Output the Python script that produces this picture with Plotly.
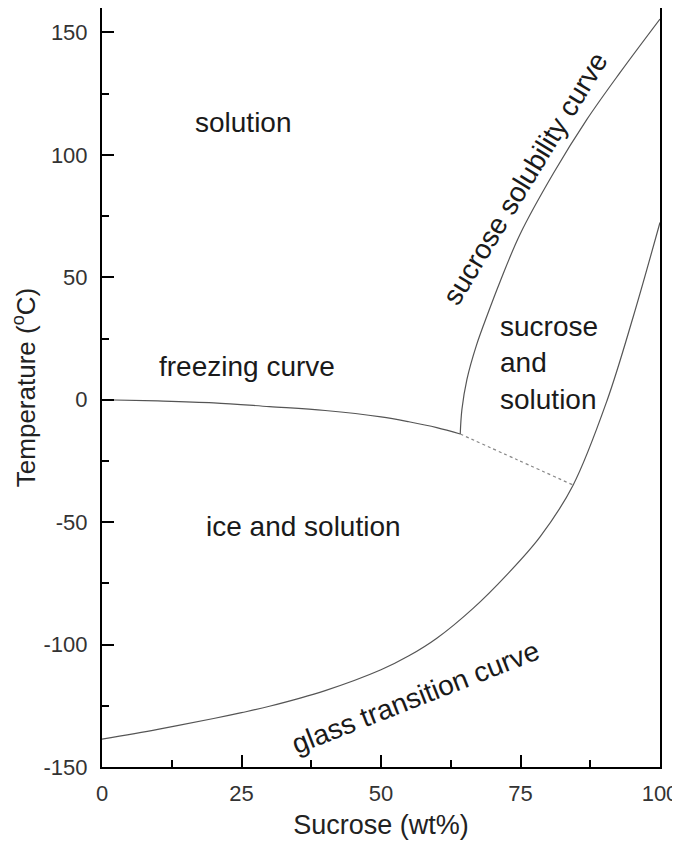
import plotly.graph_objects as go

# Freezing curve (ice liquidus)
freeze_x = [0, 10, 20, 30, 40, 50, 55, 60, 64.2]
freeze_y = [0, -0.5, -1.3, -2.8, -4.4, -7.0, -9.0, -11.4, -14.0]

# Metastable extension of freezing curve (dotted)
ext_x = [64.2, 74.4, 84.4]
ext_y = [-14.0, -24.5, -34.8]

# Sucrose solubility curve
sol_x = [64.2, 64.5, 65.4, 67.1, 69.2, 71.3, 74.9, 80.9, 86.9, 92.8, 100]
sol_y = [-14.0, -4.0, 8.3, 22.2, 35.5, 48.0, 67.5, 92.5, 114.5, 133.5, 155.5]

# Glass transition curve
glass_x = [0, 10, 20, 25, 30, 40, 50, 55, 60, 66.5, 72.5, 78.5, 84.4, 90.5, 95.2, 100]
glass_y = [-138.6, -134.6, -130.2, -127.8, -125.2, -118.8, -110.3, -104.6, -97.4,
           -85.2, -71.6, -56.0, -35.0, -0.4, 33.9, 72.4]

# Region / curve labels
label_text = ["solution", "freezing curve", "ice and solution",
              "sucrose<br>and<br>solution", "sucrose solubility curve",
              "glass transition curve"]
label_x = [25.3, 25.9, 36.1, 71.0, 75.8, 56.1]
label_y = [113.2, 13.5, -51.9, 15.1, 90.5, -121.5]
label_angle = [0, 0, 0, 0, -58.6, -21.4]
label_xanchor = ["center", "center", "center", "left", "center", "center"]

x_ticks = [0, 25, 50, 75, 100]
x_ticktext = ["0", "25", "50", "75", "100"]
y_ticks = [-150, -100, -50, 0, 50, 100, 150]
y_ticktext = ["-150", "-100", "-50", "0", "50", "100", "150"]

FONT = "Liberation Sans, Arial, sans-serif"
LINE = "#555555"
SPL = dict(shape="spline", smoothing=1.0)

fig = go.Figure()
fig.add_trace(go.Scatter(x=freeze_x, y=freeze_y, mode="lines",
                         line=dict(color=LINE, width=1.2, **SPL)))
fig.add_trace(go.Scatter(x=ext_x, y=ext_y, mode="lines",
                         line=dict(color="#888888", width=1.2, dash="dot", **SPL)))
fig.add_trace(go.Scatter(x=sol_x, y=sol_y, mode="lines",
                         line=dict(color=LINE, width=1.2, **SPL)))
fig.add_trace(go.Scatter(x=glass_x, y=glass_y, mode="lines",
                         line=dict(color=LINE, width=1.2, **SPL)))

for t, x, y, a, xa in zip(label_text, label_x, label_y, label_angle, label_xanchor):
    fig.add_annotation(x=x, y=y, xref="x", yref="y", text=t, showarrow=False,
                       textangle=a, xanchor=xa, yanchor="middle", align="left",
                       font=dict(family=FONT, size=28, color="#1a1a1a"))

axis_common = dict(showline=True, linecolor="black", linewidth=2, mirror=True,
                   ticks="inside", ticklen=12, tickwidth=2, tickcolor="black",
                   showgrid=False, zeroline=False,
                   tickfont=dict(family=FONT, size=22, color="#333333"))

fig.update_xaxes(range=[0, 100], tickvals=x_ticks, ticktext=x_ticktext,
                 minor=dict(ticks="inside", ticklen=7, tickwidth=2, tickcolor="black",
                            tick0=12.5, dtick=25),
                 title=dict(text="Sucrose (wt%)", standoff=10,
                            font=dict(family=FONT, size=27, color="#222222")),
                 ticklabelstandoff=6,
                 **axis_common)
fig.update_yaxes(range=[-150, 160], tickvals=y_ticks, ticktext=y_ticktext,
                 minor=dict(ticks="inside", ticklen=7, tickwidth=2, tickcolor="black",
                            tick0=-125, dtick=50),
                 title=dict(text="Temperature (<sup>o</sup>C)", standoff=5,
                            font=dict(family=FONT, size=26, color="#222222")),
                 ticklabelstandoff=8,
                 **axis_common)

fig.update_layout(width=680, height=843, showlegend=False,
                  plot_bgcolor="white", paper_bgcolor="white",
                  margin=dict(l=94, r=28, t=0, b=84, autoexpand=False))

fig.write_html("out.html")
